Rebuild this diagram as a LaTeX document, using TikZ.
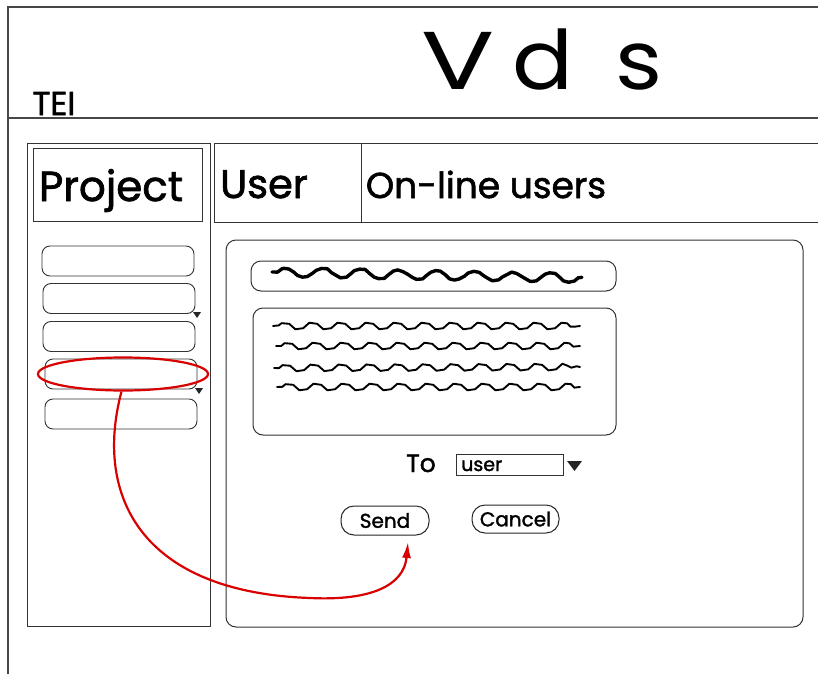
\documentclass[tikz,border=0pt]{standalone}
\usepackage{fontspec}
\setmainfont{Poppins}
\newfontfamily\marker[FakeBold=1.6]{Poppins}
\usetikzlibrary{arrows.meta,decorations.pathmorphing,shapes.geometric}
\begin{document}
\begin{tikzpicture}[x=1pt,y=-1pt,
  frameline/.style={draw=black!72, line width=1.2pt},
  boxline/.style={draw=black!80, line width=1pt},
  slot/.style={draw=black!80, line width=0.9pt, rounded corners=8pt,
    minimum width=152pt, minimum height=30pt, inner sep=0pt},
  pill/.style={draw=black!85, line width=1pt, rounded corners=13pt,
    inner sep=0pt, font=\marker\fontsize{20}{20}\selectfont},
  hand/.style={inner sep=0pt, text=black},
  dropmark/.style={fill=black!85, draw=none},
  scrawl/.style={draw=black, line width=1.9pt, line join=round, line cap=round},
  scrawlbig/.style={draw=black, line width=3.4pt, line join=round, line cap=round},
  wave/.style={decoration={snake, amplitude=2.2pt, segment length=28pt}},
  wavebig/.style={decoration={snake, amplitude=3.6pt, segment length=38pt}},
  jitter/.style={decoration={random steps, segment length=5pt, amplitude=0.9pt}},
  redmark/.style={draw=red!85!black, line width=2.2pt},
]
\pgfmathsetseed{11}
\useasboundingbox (0,0) rectangle (818,674);
\fill[white] (0,0) rectangle (818,674);

% page frame and header band
\draw[frameline] (818,7) -- (8,7) -- (8,674);
\draw[frameline] (8,118) -- (818,118);
\node[hand, anchor=base, font=\marker\fontsize{33}{33}\selectfont] (tei) at (54,115) {TEI};
\node[hand, anchor=base, font=\fontsize{82}{82}\selectfont] (logo) at (542,90)
  {\scalebox{1.1}[1]{\scalebox{1.2}[1]{V}\kern16pt d\kern38pt s}};

% left project column
\draw[boxline] (27,143) rectangle (210,626);
\node[boxline, draw, minimum width=169pt, minimum height=73pt, inner sep=0pt] (projtab) at (117.5,184.5) {};
\node[hand, anchor=base, font=\marker\fontsize{42}{42}\selectfont] (projtxt) at (111,201) {Project};

\node[slot] (p1) at (118,261) {};
\node[slot] (p2) at (119,298.5) {};
\node[slot] (p3) at (119,336.5) {};
\node[slot] (p4) at (121,374) {};
\node[slot] (p5) at (121,414) {};
\fill[dropmark] (193,312) -- (201,312) -- (197,318) -- cycle;
\fill[dropmark] (195,388) -- (203,388) -- (199,394) -- cycle;

% tab row
\draw[boxline] (818,143) -- (214,143) -- (214,222) -- (818,222);
\draw[boxline] (361,143) -- (361,222);
\node[hand, anchor=base, font=\marker\fontsize{40}{40}\selectfont] (usertab) at (264,198) {User};
\node[hand, anchor=base, font=\marker\fontsize{36}{36}\selectfont] (onlinetab) at (486,198) {On-line users};

% message panel
\draw[boxline, rounded corners=10pt] (226,240) rectangle (803,627);
\node[draw=black!80, line width=1pt, rounded corners=10pt, minimum width=365pt,
  minimum height=30pt, inner sep=0pt] (subject) at (433.5,276) {};
\draw[scrawlbig] decorate[jitter]{decorate[wavebig]{(272,272) -- (582,278)}};
\node[draw=black!80, line width=1pt, rounded corners=10pt, minimum width=363pt,
  minimum height=127pt, inner sep=0pt] (body) at (434.5,371.5) {};
\draw[scrawl] decorate[jitter]{decorate[wave]{(273,326) -- (580,326)}};
\draw[scrawl] decorate[jitter]{decorate[wave]{(276,346) -- (580,346)}};
\draw[scrawl] decorate[jitter]{decorate[wave]{(274,368) -- (580,367)}};
\draw[scrawl] decorate[jitter]{decorate[wave]{(277,387) -- (580,387)}};

% recipient chooser
\node[hand, anchor=base, font=\marker\fontsize{25}{25}\selectfont] (tolbl) at (421,472) {To};
\node[draw=black!80, line width=1pt, minimum width=107pt, minimum height=21pt,
  inner sep=0pt] (tobox) at (509.5,464.5) {};
\node[hand, anchor=base west, font=\marker\fontsize{19}{19}\selectfont] (totxt) at (461,471) {user};
\fill[dropmark] (567,461) -- (582,461) -- (574.5,471) -- cycle;

% buttons
\node[pill, minimum width=88pt, minimum height=29pt] (send) at (385,520.5) {Send};
\node[pill, minimum width=87pt, minimum height=28pt] (cancel) at (515.5,519) {Cancel};

% highlighted entry and the link to Send
\node[redmark, ellipse, minimum width=170pt, minimum height=33pt, inner sep=0pt] (mark) at (123,374) {};
\coordinate (sendtip) at (408,542);
\draw[redmark, -{Latex[length=16pt,width=9pt]}]
  (mark.265) .. controls (94,495) and (140,592) .. (310,598)
  .. controls (372,601) and (404,585) .. (sendtip);
\end{tikzpicture}
\end{document}
